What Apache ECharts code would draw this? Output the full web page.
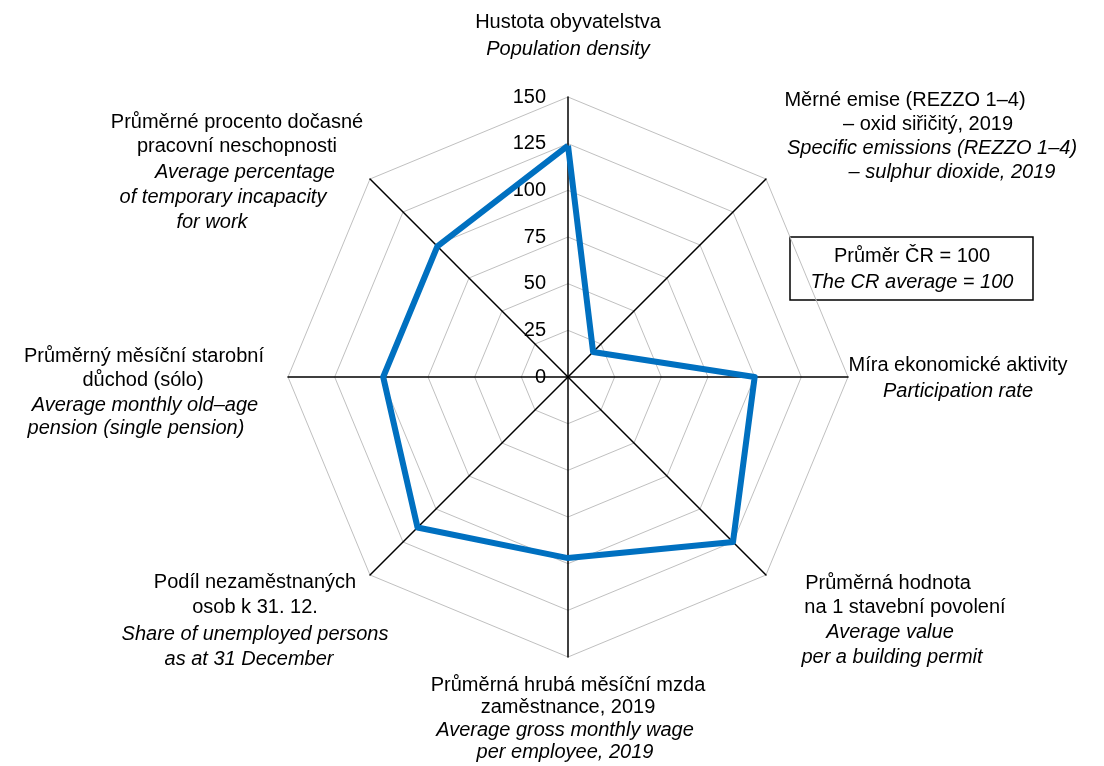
<!DOCTYPE html>
<html>
<head>
<meta charset="utf-8">
<script src="https://cdn.jsdelivr.net/npm/echarts@6/dist/echarts.min.js"></script>
<style>
  body { margin: 0; background: #fff; }
  #chart { width: 1104px; height: 766px; }
</style>
</head>
<body>
<div id="chart"></div>
<script>
// indicators in clockwise order, starting at the top
const indicators = [
  "Hustota obyvatelstva",
  "Měrné emise – oxid siřičitý",
  "Míra ekonomické aktivity",
  "Průměrná hodnota na 1 stavební povolení",
  "Průměrná hrubá měsíční mzda",
  "Podíl nezaměstnaných osob",
  "Průměrný měsíční starobní důchod",
  "Průměrné procento dočasné pracovní neschopnosti"
];
const values = [124, 19, 100, 125, 97, 114, 99, 99];
const ticks = [0, 25, 50, 75, 100, 125, 150];

const FONT = "'Liberation Sans', Arial, sans-serif";
const txt = (text, x, y, italic) => ({
  type: "text",
  x: x,
  y: y,
  silent: true,
  style: {
    text: text,
    fill: "#000",
    fontSize: 20,
    fontFamily: FONT,
    fontStyle: italic ? "italic" : "normal",
    align: "center",
    verticalAlign: "middle",
    textAlign: "center",
    textVerticalAlign: "middle"
  }
});

// echarts radar goes counter-clockwise, so reverse everything but the first
const order = [0, 7, 6, 5, 4, 3, 2, 1];
const tMin = ticks[0];
const tMax = ticks[ticks.length - 1];

let myChart = echarts.init(document.getElementById("chart"));
myChart.setOption({
  backgroundColor: "#fff",
  animation: false,
  radar: {
    center: [568, 377],
    radius: 280,
    startAngle: 90,
    shape: "polygon",
    splitNumber: ticks.length - 1,
    indicator: order.map((i, k) => ({
      name: indicators[i],
      min: tMin,
      max: tMax,
      axisLabel: k === 0 ? { show: true } : { show: false }
    })),
    axisName: { show: false },
    axisLine: { lineStyle: { color: "#000", width: 1.5 } },
    axisTick: { show: false },
    axisLabel: {
      show: false,
      color: "#000",
      fontSize: 20,
      fontFamily: FONT,
      margin: 22,
      showMinLabel: true,
      showMaxLabel: true
    },
    splitLine: { lineStyle: { color: "#c0c0c0", width: 1 } },
    splitArea: { show: false }
  },
  series: [
    {
      type: "radar",
      symbol: "none",
      lineStyle: { color: "#0070c0", width: 6 },
      data: [{ value: order.map((i) => values[i]) }]
    }
  ],
  graphic: [
    txt("Hustota obyvatelstva", 568, 22),
    txt("Population density", 568, 49, true),

    txt("Měrné emise (REZZO 1–4)", 905, 100),
    txt("– oxid siřičitý, 2019", 928, 124),
    txt("Specific emissions (REZZO 1–4)", 932, 148, true),
    txt("– sulphur dioxide, 2019", 952, 172, true),

    txt("Míra ekonomické aktivity", 958, 365),
    txt("Participation rate", 958, 391, true),

    txt("Průměrná hodnota", 888, 583),
    txt("na 1 stavební povolení", 905, 607),
    txt("Average value", 890, 632, true),
    txt("per a building permit", 892, 657, true),

    txt("Průměrná hrubá měsíční mzda", 568, 685),
    txt("zaměstnance, 2019", 568, 707),
    txt("Average gross monthly wage", 565, 730, true),
    txt("per employee, 2019", 565, 752, true),

    txt("Podíl nezaměstnaných", 255, 582),
    txt("osob k 31. 12.", 255, 607),
    txt("Share of unemployed persons", 255, 634, true),
    txt("as at 31 December", 249, 659, true),

    txt("Průměrný měsíční starobní", 144, 356),
    txt("důchod (sólo)", 143, 380),
    txt("Average monthly old–age", 145, 405, true),
    txt("pension (single pension)", 136, 428, true),

    txt("Průměrné procento dočasné", 237, 122),
    txt("pracovní neschopnosti", 237, 146),
    txt("Average percentage", 245, 172, true),
    txt("of temporary incapacity", 223, 197, true),
    txt("for work", 212, 222, true),

    {
      type: "rect",
      silent: true,
      shape: { x: 790, y: 237, width: 243, height: 63 },
      style: { fill: "#fff", stroke: "#000", lineWidth: 1.5 }
    },
    txt("Průměr ČR = 100", 912, 256),
    txt("The CR average = 100", 912, 282, true)
  ]
});
window.onresize = function () {
  myChart.resize();
};
</script>
</body>
</html>
